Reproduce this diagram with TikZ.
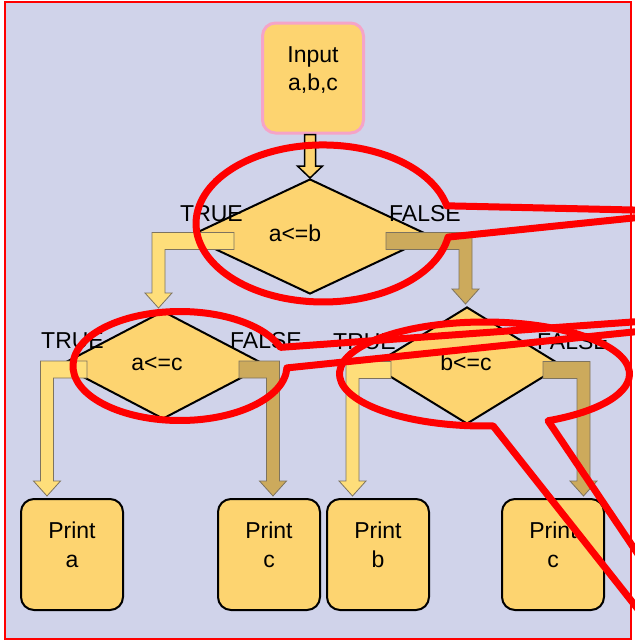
\documentclass[tikz,border=0pt]{standalone}
\usepackage{fontspec}
\setmainfont{Liberation Sans}
\usetikzlibrary{shapes.geometric,calc}
\definecolor{lavender}{RGB}{208,211,234}
\definecolor{boxfill}{RGB}{253,212,112}
\definecolor{yesfill}{RGB}{254,222,122}
\definecolor{nofill}{RGB}{204,170,92}
\definecolor{pinkline}{RGB}{245,164,200}
\definecolor{barline}{RGB}{125,115,95}
\tikzset{
  box/.style={draw, line width=2pt, rounded corners=13pt, fill=boxfill,
    minimum width=102pt, minimum height=111pt, inner sep=0pt, align=center,
    text height=50pt, text depth=25pt},
  decision/.style={diamond, draw, line width=2pt, fill=boxfill, inner sep=0pt},
  yes/.style={fill=yesfill, draw=barline, line width=0.8pt},
  no/.style={fill=nofill, draw=barline, line width=0.8pt},
  tag/.style={anchor=base west, inner sep=0pt},
  cond/.style={anchor=base, inner sep=0pt},
  callout/.style={draw=red, line width=7pt, line join=round}
}
% #1 style, #2 decision, #3 target, #4 tip shift, #5 side (-1 left, 1 right)
\newcommand\branch[5]{%
  \draw[#1] ($(#2.center)+(#5*76,-4)$)
    -- ($(#2.center -| #3.north)+({#4+(#5)*6.5},-4)$)
    -- ($(#3.north)+({#4+(#5)*6.5},-17)$)
    -- ($(#3.north)+({#4+(#5)*13.5},-17)$)
    -- ($(#3.north)+(#4,-2)$)
    -- ($(#3.north)+({#4-(#5)*13.5},-17)$)
    -- ($(#3.north)+({#4-(#5)*6.5},-17)$)
    -- ($(#2.center -| #3.north)+({#4-(#5)*6.5},13)$)
    -- ($(#2.center)+(#5*76,13)$) -- cycle;
}
\begin{document}
\begin{tikzpicture}[x=1pt, y=-1pt, font=\fontsize{23}{28.5}\selectfont]
\useasboundingbox (0,0) rectangle (635,641);
\clip (0,0) rectangle (635,641);
\fill[white] (0,0) rectangle (635,641);
\draw[red, line width=1.5pt, fill=lavender] (5,2) rectangle (631,639);

\node[box, draw=pinkline, line width=3pt, minimum width=101pt, minimum height=110pt] (in) at (313,78) {Input\\a,b,c};

\node[decision, minimum width=244pt, minimum height=115pt] (ab) at (310,236.5) {};
\node[decision, minimum width=206pt, minimum height=108pt] (ac) at (163,365) {};
\node[decision, minimum width=190pt, minimum height=117pt] (bc) at (467,365.5) {};

\node[box] (pa) at (72,554.5) {Print\\a};
\node[box] (pc1) at (269,554.5) {Print\\c};
\node[box] (pb) at (378,554.5) {Print\\b};
\node[box] (pc2) at (553,554.5) {Print\\c};

\draw[fill=boxfill, line width=1.5pt] ($(in.south -| ab.north)+(-5.5,0)$) -- ($(ab.north)+(-5.5,-12)$)
  -- ($(ab.north)+(-12.5,-12)$) -- (ab.north) -- ($(ab.north)+(12.5,-12)$)
  -- ($(ab.north)+(5.5,-12)$) -- ($(in.south -| ab.north)+(5.5,0)$) -- cycle;

\branch{yes}{ab}{ac}{-4.5}{-1}
\branch{no}{ab}{bc}{-1.5}{1}
\branch{yes}{ac}{pa}{-25}{-1}
\branch{no}{ac}{pc1}{4}{1}
\branch{yes}{bc}{pb}{-25.5}{-1}
\branch{no}{bc}{pc2}{30.5}{1}

\node[cond] (tab) at (295,241) {a<=b};
\node[cond] (tac) at (157,370) {a<=c};
\node[cond] (tbc) at (466,370) {b<=c};
\node[tag] (t1) at (180,221) {TRUE};
\node[tag] (f1) at (389,221) {FALSE};
\node[tag] (t2) at (41,348) {TRUE};
\node[tag] (f2) at (230,348) {FALSE};
\node[tag] (t3) at (333,349) {TRUE};
\node[tag] (f3) at (537,349) {FALSE};

\draw[callout] (660,215.2) -- (448.1,237.1)
  arc[start angle=10, end angle=347, x radius=127, y radius=78.5] -- (660,210.6);
\draw[callout] (660,329.2) -- (286.9,367.9)
  arc[start angle=2, end angle=340, x radius=107, y radius=54.5] -- (660,320);
\draw[callout] (680,662.4) -- (493.1,425.9)
  arc[start angle=86.6, end angle=424, x radius=145, y radius=52] -- (680,616.6);
\end{tikzpicture}
\end{document}
